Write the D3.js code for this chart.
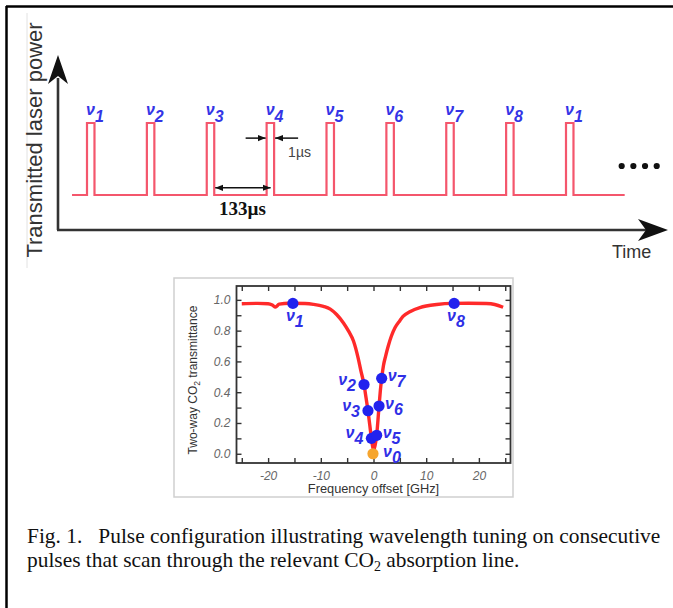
<!DOCTYPE html>
<html>
<head>
<meta charset="utf-8">
<script src="https://cdn.jsdelivr.net/npm/d3@7"></script>
<style>
  body { margin: 0; background: #fff; }
  svg { display: block; }
  text { white-space: pre; }
</style>
</head>
<body>
<svg width="673" height="608"></svg>
<script>
// top panel: one pulse every 133 us, wavelength index above each
const pulseIndex = [0, 1, 2, 3, 4, 5, 6, 7, 8];
const pulseNu    = ["1", "2", "3", "4", "5", "6", "7", "8", "1"];

// bottom panel: two-way CO2 transmittance vs frequency offset (GHz)
const lineFreq  = [-25, -22, -20, -19.2, -18.6, -17.9, -16, -13, -11.4, -9.5, -8.2, -7, -5.7, -4.7, -3.8, -2.9,
                   -2.4, -1.8, -1.4, -1.05, -0.7, -0.4, -0.15, 0.05, 0.3, 0.6, 0.85, 1.05, 1.3, 1.55, 1.9,
                   2.3, 2.8, 3.4, 4.1, 5, 5.6, 7, 8.8, 10, 12, 15, 18, 21.4, 23, 24.6];
const lineTrans = [0.975, 0.977, 0.975, 0.966, 0.953, 0.972, 0.978, 0.976, 0.971, 0.958, 0.94, 0.905, 0.85, 0.795, 0.733, 0.62,
                   0.54, 0.45, 0.36, 0.28, 0.185, 0.10, 0.045, 0.025, 0.055, 0.12, 0.22, 0.31, 0.41, 0.49, 0.575,
                   0.635, 0.70, 0.765, 0.82, 0.865, 0.892, 0.925, 0.95, 0.96, 0.97, 0.977, 0.978, 0.976, 0.97, 0.952];

// tuned wavelengths sitting on the line
const nuName  = ["1", "2", "3", "4", "0", "5", "6", "7", "8"];
const nuFreq  = [-15.3, -1.8, -1.05, -0.4, -0.1, 0.6, 1.05, 1.55, 15.3];
const nuTrans = [0.977, 0.45, 0.28, 0.10, 0.0, 0.12, 0.31, 0.49, 0.977];
const nuSide  = ["below", "left", "left", "left", "right", "right", "right", "right", "below"];

const freqTicks  = [-25, -20, -15, -10, -5, 0, 5, 10, 15, 20, 25];
const freqLabels = [-20, -10, 0, 10, 20];
const transTicks  = [0, 0.1, 0.2, 0.3, 0.4, 0.5, 0.6, 0.7, 0.8, 0.9, 1.0];
const transLabels = [0, 0.2, 0.4, 0.6, 0.8, 1.0];

const svg = d3.select("svg");
const SANS = "'Liberation Sans', Arial, sans-serif";
const SERIF = "'Liberation Serif', 'Times New Roman', serif";

// arrow markers
const defs = svg.append("defs");
defs.append("marker").attr("id", "head")
    .attr("viewBox", "0 0 10 10").attr("refX", 10).attr("refY", 5)
    .attr("markerWidth", 8).attr("markerHeight", 8).attr("markerUnits", "userSpaceOnUse")
    .attr("orient", "auto-start-reverse")
  .append("path").attr("d", "M0,1 L10,5 L0,9 Z").attr("fill", "#111");

// figure frame (top and left edges only)
svg.append("line").attr("x1", 6).attr("y1", 6.5).attr("x2", 673).attr("y2", 6.5)
   .attr("stroke", "#000").attr("stroke-width", 2.5);
svg.append("line").attr("x1", 6.5).attr("y1", 6).attr("x2", 6.5).attr("y2", 608)
   .attr("stroke", "#000").attr("stroke-width", 2.5);
svg.append("line").attr("x1", 27).attr("y1", 13).attr("x2", 27).attr("y2", 268)
   .attr("stroke", "#e2e2e2").attr("stroke-width", 1);

// ---------- top panel ----------
const PW = 0.125;           // drawn pulse width, in periods
const xP = d3.scaleLinear().domain([0, 8]).range([87, 566]);
const yP = d3.scaleLinear().domain([0, 1]).range([195, 123]);

const axisColor = "#333";
svg.append("line").attr("x1", 58).attr("y1", 78).attr("x2", 58).attr("y2", 230)
   .attr("stroke", axisColor).attr("stroke-width", 2.6);
svg.append("line").attr("x1", 57).attr("y1", 230).attr("x2", 648).attr("y2", 230)
   .attr("stroke", axisColor).attr("stroke-width", 2.6);
svg.append("path").attr("d", "M58,55 L68,84 L58,76 L48,84 Z").attr("fill", "#111");
svg.append("path").attr("d", "M668,230 L638,219 L646,230 L638,241 Z").attr("fill", "#111");

svg.append("text")
   .attr("transform", "translate(42,140) rotate(-90)")
   .attr("text-anchor", "middle")
   .attr("font-family", SANS).attr("font-size", 22).attr("fill", "#333")
   .text("Transmitted laser power");
svg.append("text").attr("x", 612).attr("y", 258)
   .attr("font-family", SANS).attr("font-size", 18).attr("fill", "#333")
   .text("Time");

const trainPts = [[-0.25, 0]];
pulseIndex.forEach(i => trainPts.push([i, 0], [i, 1], [i + PW, 1], [i + PW, 0]));
trainPts.push([8.98, 0]);
svg.append("path")
   .attr("d", d3.line().x(d => xP(d[0])).y(d => yP(d[1]))(trainPts))
   .attr("fill", "none").attr("stroke", "#f4566c").attr("stroke-width", 2.2);

const topLab = svg.selectAll("text.nuTop").data(pulseIndex).join("text")
   .attr("class", "nuTop")
   .attr("x", i => xP(i) - 1).attr("y", yP(1) - 8)
   .attr("font-family", SANS).attr("font-size", 16).attr("font-weight", "bold")
   .attr("font-style", "italic").attr("fill", "#3434e6");
topLab.append("tspan").text("ν");
topLab.append("tspan").attr("dy", 7).text(i => pulseNu[i]);

// continuation dots
svg.selectAll("circle.more").data([8.93, 9.125, 9.32, 9.515]).join("circle")
   .attr("class", "more").attr("cx", d => xP(d)).attr("cy", 166).attr("r", 3.1).attr("fill", "#111");

// 1 us width marker on the 4th pulse
const yW = yP(0.79);
svg.append("line").attr("x1", xP(3) - 21).attr("y1", yW).attr("x2", xP(3) - 1).attr("y2", yW)
   .attr("stroke", "#111").attr("stroke-width", 1.5).attr("marker-end", "url(#head)");
svg.append("line").attr("x1", xP(3 + PW) + 24).attr("y1", yW).attr("x2", xP(3 + PW) + 1).attr("y2", yW)
   .attr("stroke", "#111").attr("stroke-width", 1.5).attr("marker-end", "url(#head)");
svg.append("text").attr("x", xP(3 + PW) + 14).attr("y", 157)
   .attr("font-family", SANS).attr("font-size", 14).attr("fill", "#444").text("1µs");

// 133 us spacing marker
const yS = yP(0.1);
svg.append("line").attr("x1", xP(2 + PW) + 1).attr("y1", yS).attr("x2", xP(3) + 4).attr("y2", yS)
   .attr("stroke", "#111").attr("stroke-width", 1.5)
   .attr("marker-start", "url(#head)").attr("marker-end", "url(#head)");
svg.append("text").attr("x", (xP(2 + PW) + xP(3)) / 2 + 2).attr("y", 215)
   .attr("text-anchor", "middle")
   .attr("font-family", SERIF).attr("font-size", 19).attr("font-weight", "bold").attr("fill", "#111")
   .text("133µs");

// ---------- bottom panel ----------
svg.append("rect").attr("x", 174).attr("y", 278).attr("width", 339).attr("height", 219)
   .attr("fill", "#fff").attr("stroke", "#cfcfcf").attr("stroke-width", 1.5);

const xF = d3.scaleLinear().domain([-26, 26]).range([236.5, 510.5]);
const yT = d3.scaleLinear().domain([-0.06, 1.09]).range([463, 286]);

const g = svg.append("g");
const tickStyle = sel => {
  sel.select(".domain").remove();
  sel.selectAll(".tick line").attr("stroke", "#333").attr("stroke-width", 1.4);
  sel.selectAll(".tick text").attr("font-family", SANS).attr("font-size", 12)
     .attr("font-style", "italic").attr("fill", "#666");
};
g.append("g").attr("transform", `translate(0,${yT.range()[0]})`)
 .call(d3.axisBottom(xF).tickValues(freqTicks).tickSize(-5).tickPadding(8)
        .tickFormat(d => freqLabels.includes(d) ? String(d) : ""))
 .call(tickStyle);
g.append("g").attr("transform", `translate(0,${yT.range()[1]})`)
 .call(d3.axisTop(xF).tickValues(freqTicks).tickSize(-5).tickFormat(""))
 .call(tickStyle);
g.append("g").attr("transform", `translate(${xF.range()[0]},0)`)
 .call(d3.axisLeft(yT).tickValues(transTicks).tickSize(-5).tickPadding(6)
        .tickFormat(d => transLabels.some(v => Math.abs(v - d) < 1e-9) ? d3.format(".1f")(d) : ""))
 .call(tickStyle);
g.append("g").attr("transform", `translate(${xF.range()[1]},0)`)
 .call(d3.axisRight(yT).tickValues(transTicks).tickSize(-5).tickFormat(""))
 .call(tickStyle);

svg.append("rect").attr("x", xF.range()[0]).attr("y", yT.range()[1])
   .attr("width", xF.range()[1] - xF.range()[0]).attr("height", yT.range()[0] - yT.range()[1])
   .attr("fill", "none").attr("stroke", "#333").attr("stroke-width", 1.8);

svg.append("path")
   .datum(lineFreq.map((f, i) => [f, lineTrans[i]]))
   .attr("d", d3.line().x(d => xF(d[0])).y(d => yT(d[1])).curve(d3.curveMonotoneX))
   .attr("fill", "none").attr("stroke", "#ff2a2a").attr("stroke-width", 3.4);

const nuIdx = d3.range(nuName.length);
svg.selectAll("circle.nu").data(nuIdx).join("circle")
   .attr("class", "nu")
   .attr("cx", i => xF(nuFreq[i])).attr("cy", i => yT(nuTrans[i])).attr("r", 5.6)
   .attr("fill", i => nuName[i] === "0" ? "#f6a52e" : "#2222ee");

const labOff = {
  below: { dx: -7, dy: 18, anchor: "start" },
  left:  { dx: -8, dy: 0,  anchor: "end" },
  right: { dx: 6,  dy: 3,  anchor: "start" }
};
const botLab = svg.selectAll("text.nuBot").data(nuIdx).join("text")
   .attr("class", "nuBot")
   .attr("x", i => xF(nuFreq[i]) + labOff[nuSide[i]].dx + (nuName[i] === "0" ? 4 : 0))
   .attr("y", i => yT(nuTrans[i]) + labOff[nuSide[i]].dy)
   .attr("text-anchor", i => labOff[nuSide[i]].anchor)
   .attr("font-family", SANS).attr("font-size", 16).attr("font-weight", "bold")
   .attr("font-style", "italic").attr("fill", "#2f2fe6");
botLab.append("tspan").text("ν");
botLab.append("tspan").attr("dy", 6).text(i => nuName[i]);

const yLab = svg.append("text")
   .attr("transform", "translate(197,380) rotate(-90)")
   .attr("text-anchor", "middle")
   .attr("font-family", SANS).attr("font-size", 12).attr("fill", "#333");
yLab.append("tspan").text("Two-way CO");
yLab.append("tspan").attr("font-size", 8.5).attr("dy", 2.5).text("2");
yLab.append("tspan").attr("dy", -2.5).text(" transmittance");

svg.append("text").attr("x", xF(0)).attr("y", 493).attr("text-anchor", "middle")
   .attr("font-family", SANS).attr("font-size", 12.8).attr("fill", "#333")
   .text("Frequency offset [GHz]");

// ---------- caption ----------
const cap = svg.append("g").attr("font-family", SERIF).attr("font-size", 21.4).attr("fill", "#111");
cap.append("text").attr("x", 27).attr("y", 543)
   .text("Fig. 1.   Pulse configuration illustrating wavelength tuning on consecutive");
const cap2 = cap.append("text").attr("x", 27).attr("y", 567);
cap2.append("tspan").text("pulses that scan through the relevant CO");
cap2.append("tspan").attr("font-size", 14).attr("dy", 4).text("2");
cap2.append("tspan").attr("dy", -4).text(" absorption line.");
</script>
</body>
</html>
